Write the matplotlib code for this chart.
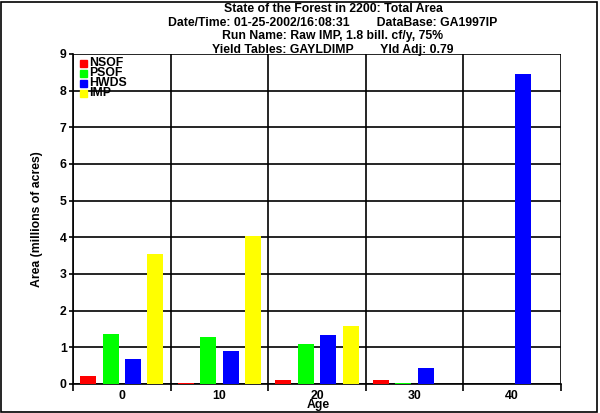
import matplotlib
matplotlib.use("Agg")
import matplotlib.pyplot as plt
from matplotlib.patches import Rectangle
import numpy as np

# data
ages = ["0", "10", "20", "30", "40"]
series = ["NSOF", "PSOF", "HWDS", "IMP"]
nsof = [0.23, 0.04, 0.11, 0.11, 0.0]
psof = [1.37, 1.28, 1.10, 0.03, 0.0]
hwds = [0.67, 0.89, 1.35, 0.44, 8.46]
imp = [3.55, 4.04, 1.59, 0.0, 0.0]
colors = ["#ff0000", "#00ff00", "#0000ff", "#ffff00"]

title_lines = [
    "State of the Forest in 2200: Total Area",
    "Date/Time: 01-25-2002/16:08:31        DataBase: GA1997IP",
    "Run Name: Raw IMP, 1.8 bill. cf/y, 75%",
    "Yield Tables: GAYLDIMP        Yld Adj: 0.79",
]

plt.rcParams['font.family'] = ['Liberation Sans', 'DejaVu Sans']
plt.rcParams['font.weight'] = 'bold'
FS = 8.8

W, H = 600, 413
fig = plt.figure(figsize=(W / 100, H / 100), dpi=100)
fig.patch.set_facecolor("white")

# plot area in pixels: x 73..561, y 54..384
ax = fig.add_axes([73 / W, (H - 384) / H, 488 / W, 330 / H])

x = np.arange(len(ages))
offsets = [-0.344, -0.115, 0.115, 0.344]
width = 0.164
for vals, off, col, name in zip([nsof, psof, hwds, imp], offsets, colors, series):
    ax.bar(x + off, vals, width, color=col, linewidth=0, label=name, zorder=3)

ax.set_xlim(-0.5, len(ages) - 0.5)
ax.set_ylim(0, 9)

# grid: horizontal at every unit, vertical at group borders
for yv in range(0, 10):
    ax.axhline(yv, color="black", lw=1.2, zorder=1)
for xv in np.arange(-0.5, len(ages), 1.0):
    ax.axvline(xv, color="black", lw=1.2, zorder=1)

for s in ["top", "right"]:
    ax.spines[s].set_visible(False)
ax.spines["left"].set_linewidth(1.2)
ax.spines["bottom"].set_linewidth(1.2)

ax.set_yticks(range(0, 10))
ax.set_yticklabels([str(v) for v in range(0, 10)], fontsize=FS, fontweight="bold")
ax.tick_params(axis="y", length=3, width=1.2, pad=1.5)

ax.set_xticks(np.arange(-0.5, len(ages), 1.0))
ax.set_xticklabels([])
ax.set_xticks(x, minor=True)
ax.set_xticklabels(ages, minor=True, fontsize=FS, fontweight="bold")
ax.tick_params(axis="x", which="major", length=5, width=1.2, direction="out")
ax.tick_params(axis="x", which="minor", length=0, pad=4)

fig.text(37 / W, 1 - 219 / H, "Area (millions of acres)", rotation=90,
         ha="center", va="center", fontsize=FS, fontweight="bold")
fig.text(318 / W, 1 - 405 / H, "Age", ha="center", va="center",
         fontsize=FS, fontweight="bold")

# title block
for i, line in enumerate(title_lines):
    fig.text(333 / W, 1 - (8.5 + 14 * i) / H, line, ha="center", va="center",
             fontsize=FS, fontweight="bold")

# legend drawn as small squares with labels
for i, (name, col) in enumerate(zip(series, colors)):
    y0 = 60 + 10 * i
    fig.patches.append(Rectangle((80 / W, 1 - (y0 + 7) / H), 7 / W, 7 / H,
                                 transform=fig.transFigure, color=col,
                                 zorder=5))
    fig.text(89 / W, 1 - (y0 + 3.5) / H, name, ha="left", va="center",
             fontsize=FS, fontweight="bold", zorder=6)

# outer frame
fig.patches.append(Rectangle((1 / W, 1.5 / H), 596 / W, 410 / H,
                             transform=fig.transFigure, fill=False,
                             edgecolor="black", lw=1.2))

fig.savefig("out.png", dpi=100)
